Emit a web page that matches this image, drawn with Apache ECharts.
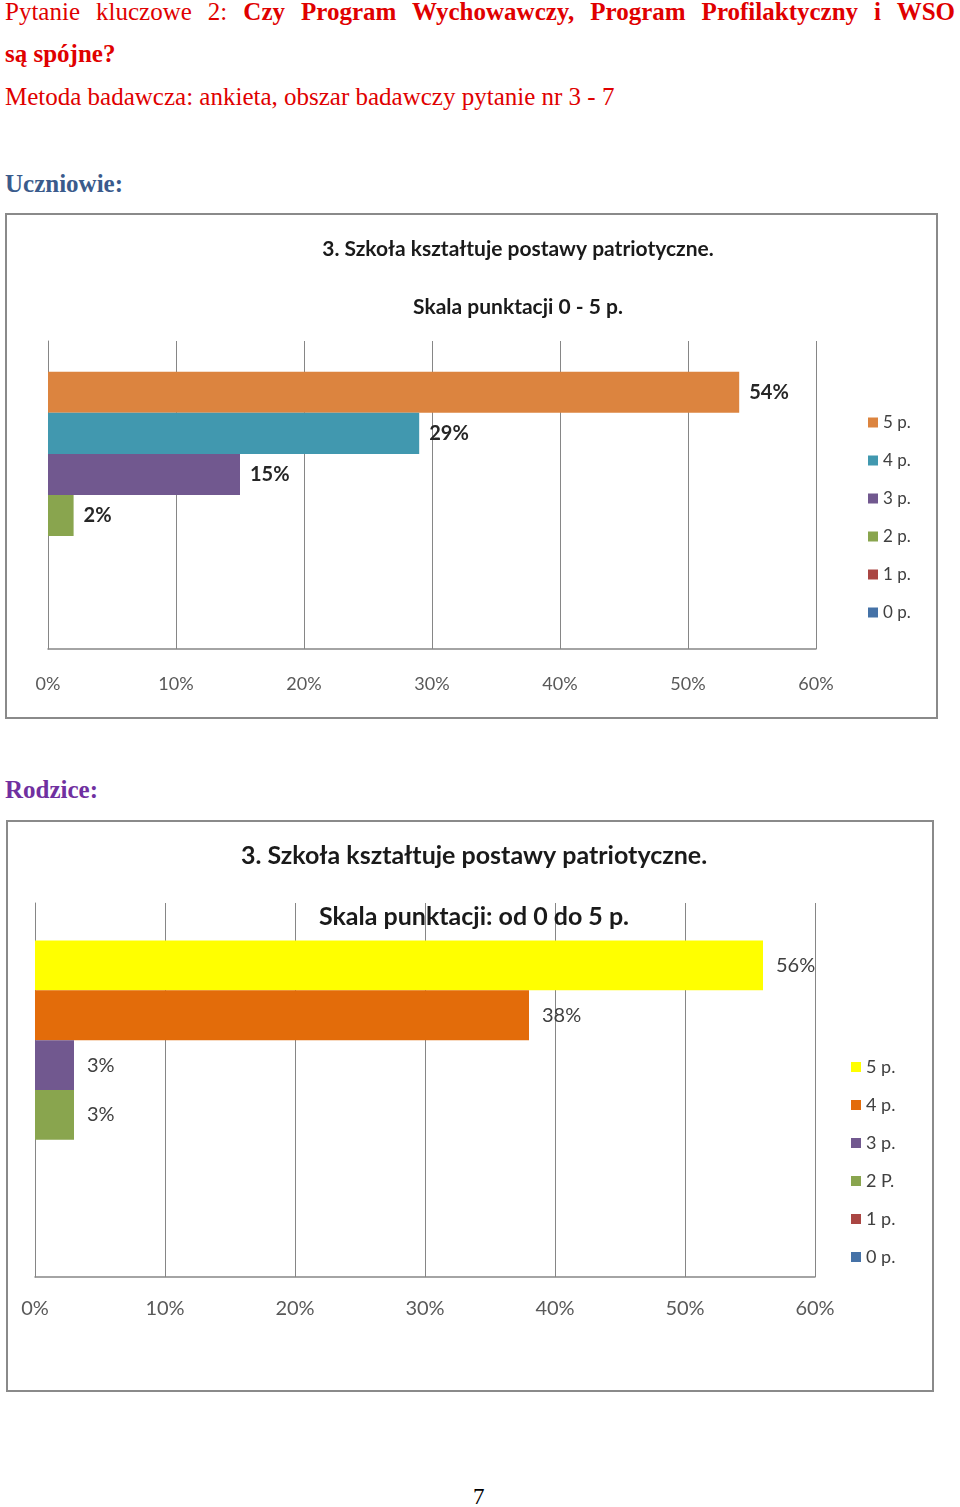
<!DOCTYPE html>
<html>
<head>
<meta charset="utf-8">
<script src="https://cdn.jsdelivr.net/npm/echarts@6/dist/echarts.min.js"></script>
<style>
  html, body { margin: 0; padding: 0; background: #ffffff; }
  body { width: 960px; height: 1507px; position: relative; overflow: hidden; }
  .txt { position: absolute; font-family: "Liberation Serif", "Times New Roman", serif; white-space: nowrap; }
  #l1 { left: 5px; top: -6px; width: 950px; font-size: 25px; color: #e00000; text-align: justify; text-align-last: justify; white-space: normal; line-height: 36px; }
  #l2 { left: 5px; top: 40px; font-size: 25px; color: #e00000; font-weight: bold; }
  #l3 { left: 5px; top: 83px; font-size: 25px; color: #e00000; }
  #u { left: 5px; top: 170px; font-size: 25px; color: #3a5b8c; font-weight: bold; }
  #r { left: 5px; top: 776px; font-size: 25px; color: #7030a0; font-weight: bold; }
  #pg { left: 473px; top: 1484px; font-size: 23px; color: #000; }
  #c1 { position: absolute; left: 5px; top: 213px; width: 933px; height: 506px; }
  #c2 { position: absolute; left: 6px; top: 820px; width: 928px; height: 572px; }
</style>
</head>
<body>
<div class="txt" id="l1">Pytanie kluczowe 2: <b>Czy Program Wychowawczy, Program Profilaktyczny i WSO</b></div>
<div class="txt" id="l2">są spójne?</div>
<div class="txt" id="l3">Metoda badawcza: ankieta, obszar badawczy pytanie nr 3 - 7</div>
<div class="txt" id="u">Uczniowie:</div>
<div class="txt" id="r">Rodzice:</div>
<div class="txt" id="pg">7</div>
<div id="c1"></div>
<div id="c2"></div>
<script>
// ---- data ----
const chartTitle = '3. Szkoła kształtuje postawy patriotyczne.';
const subtitle1 = 'Skala punktacji 0 - 5 p.';
const subtitle2 = 'Skala punktacji: od 0 do 5 p.';
const category = ['3.'];
const seriesNames1 = ['5 p.', '4 p.', '3 p.', '2 p.', '1 p.', '0 p.'];
const uczniowieValues = [54, 29, 15, 2, 0, 0];
const seriesNames2 = ['5 p.', '4 p.', '3 p.', '2 P.', '1 p.', '0 p.'];
const rodziceValues = [56, 38, 3, 3, 0, 0];
const xTickLabels = ['0%', '10%', '20%', '30%', '40%', '50%', '60%'];

// ---- styles ----
const palette1 = ['#dc843f', '#4198af', '#71588f', '#89a54e', '#aa4643', '#4572a7'];
const palette2 = ['#ffff00', '#e36c0a', '#71588f', '#89a54e', '#aa4643', '#4572a7'];
const FONT = 'Lato, "Open Sans", sans-serif';

function build(cfg) {
  return {
    animation: false,
    color: cfg.palette,
    title: [
      { text: chartTitle, left: cfg.titleX, top: cfg.titleTop, textAlign: 'center',
        textStyle: { fontFamily: FONT, fontWeight: 'bold', fontSize: cfg.titleSize, color: '#1a1a1a' } },
      { text: cfg.subtitle, left: cfg.titleX, top: cfg.subTop, textAlign: 'center',
        textStyle: { fontFamily: FONT, fontWeight: 'bold', fontSize: cfg.subSize, color: '#1a1a1a' } }
    ],
    graphic: [{ type: 'rect', shape: { x: 1, y: 1, width: cfg.w - 2, height: cfg.h - 2 },
      style: { fill: 'none', stroke: '#8a8a8a', lineWidth: 2 }, silent: true }],
    legend: {
      orient: 'vertical', left: cfg.legendLeft, top: cfg.legendTop,
      icon: 'rect', itemWidth: 10, itemHeight: 10, itemGap: cfg.legendGap,
      textStyle: { fontFamily: FONT, fontSize: cfg.legendSize, color: '#404040' },
      data: cfg.names
    },
    grid: { left: cfg.gl, top: cfg.gt, width: cfg.gw, height: cfg.gh },
    xAxis: {
      type: 'value', min: 0, max: 60, interval: 10,
      axisLine: { show: true, lineStyle: { color: '#868686', width: 1.5 } },
      axisTick: { show: false },
      splitLine: { show: true, lineStyle: { color: '#868686', width: 1 } },
      axisLabel: { margin: cfg.labelMargin, fontFamily: FONT, fontSize: cfg.axisSize, color: '#595959',
        formatter: function (v) { return xTickLabels[Math.round(v / 10)]; } }
    },
    yAxis: {
      type: 'category', data: category,
      axisLine: { show: true, lineStyle: { color: '#868686', width: 1 } },
      axisTick: { show: false }, axisLabel: { show: false }
    },
    series: cfg.names.map(function (n, i) {
      return {
        type: 'bar', name: n, data: [cfg.values[i]],
        barGap: 0, barCategoryGap: '20%',
        label: { show: true, position: 'right', distance: cfg.labelDist,
          fontFamily: FONT, fontSize: cfg.valSize, fontWeight: cfg.valWeight, color: cfg.valColor,
          formatter: function (p) { return p.value > 0 ? p.value + '%' : ''; } }
      };
    })
  };
}

const c1 = echarts.init(document.getElementById('c1'), null, { renderer: 'canvas' });
c1.setOption(build({
  w: 933, h: 506, palette: palette1, names: seriesNames1, values: uczniowieValues,
  subtitle: subtitle1, titleX: 508, titleTop: 21, subTop: 79, titleSize: 21, subSize: 21,
  legendLeft: 858, legendTop: 196, legendSize: 17, legendGap: 21,
  gl: 43, gt: 128, gw: 768, gh: 308, labelMargin: 26, axisSize: 18,
  labelDist: 10, valSize: 20, valWeight: 'bold', valColor: '#262626'
}));

const c2 = echarts.init(document.getElementById('c2'), null, { renderer: 'canvas' });
c2.setOption(build({
  w: 928, h: 572, palette: palette2, names: seriesNames2, values: rodziceValues,
  subtitle: subtitle2, titleX: 463, titleTop: 18, subTop: 79, titleSize: 25, subSize: 25,
  legendLeft: 840, legendTop: 233, legendSize: 18, legendGap: 20,
  gl: 29, gt: 83, gw: 780, gh: 374, labelMargin: 22, axisSize: 20,
  labelDist: 13, valSize: 20, valWeight: 'normal', valColor: '#404040'
}));
</script>
</body>
</html>
